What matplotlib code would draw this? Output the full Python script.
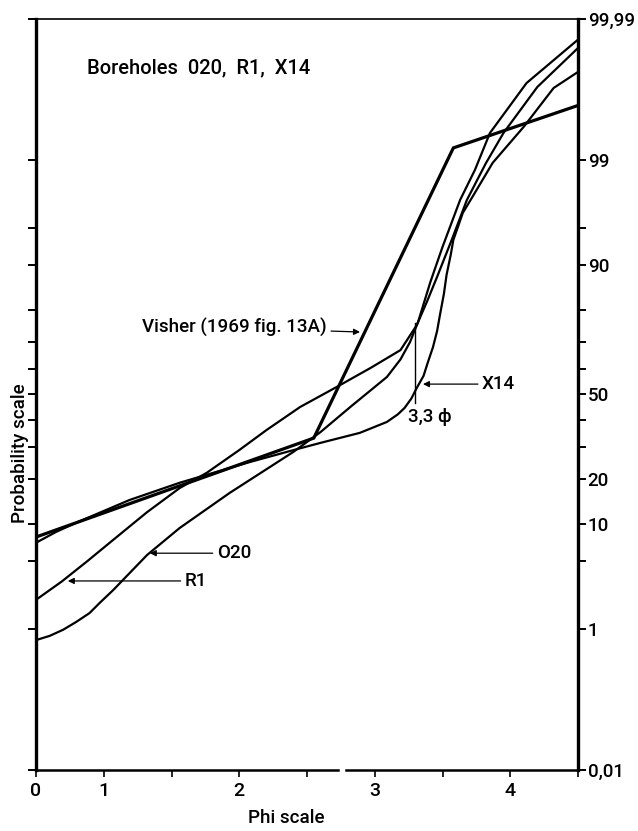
import numpy as np
import matplotlib
matplotlib.use("Agg")
import matplotlib.pyplot as plt
from statistics import NormalDist

plt.rcParams['font.family'] = ['Roboto', 'DejaVu Sans']
plt.rcParams['font.weight'] = 'medium'

# curves (phi, cumulative percent)
visher_phi = [0.0, 2.55, 3.58, 4.5]
visher_pct = [7.9, 33.3, 99.27, 99.79]

r1_phi = [0.0, 0.38, 0.75, 1.07, 1.32, 1.56, 1.76, 2.0, 2.2, 2.45, 2.72,
          2.97, 3.19, 3.31, 3.39, 3.46, 3.57, 3.68, 3.82, 3.95, 4.2, 4.5]
r1_pct = [2.1, 3.2, 4.9, 7.5, 12.2, 17.7, 21.9, 29.1, 36.2, 45.1, 53.0,
          60.4, 67.0, 75.4, 82.5, 87.8, 93.8, 97.3, 98.9, 99.52, 99.884, 99.97]

o20_phi = [0.0, 0.2, 0.4, 0.59, 0.79, 0.94, 1.07, 1.32, 1.56, 1.93, 2.4,
           2.6, 2.82, 3.09, 3.19, 3.26, 3.32, 3.41, 3.5, 3.63, 3.74, 3.85,
           4.12, 4.5]
o20_pct = [0.75, 0.84, 0.99, 1.21, 1.52, 1.95, 2.64, 5.6, 9.3, 16.5, 28.5,
           35.5, 45.1, 56.9, 63.6, 69.8, 76.4, 86.7, 92.8, 97.3, 98.7, 99.52,
           99.898, 99.978]

x14_phi = [0.0, 0.3, 0.65, 1.19, 1.56, 2.08, 2.4, 2.6, 2.89, 3.09, 3.17,
           3.22, 3.27, 3.31, 3.36, 3.39, 3.43, 3.46, 3.48, 3.51, 3.53, 3.56,
           3.58, 3.65, 3.73, 3.87, 4.1, 4.32, 4.5]
x14_pct = [7.1, 8.7, 10.5, 14.8, 19.1, 25.2, 29.1, 31.6, 35.2, 39.3, 42.2,
           44.7, 48.4, 52.6, 57.3, 62.2, 68.1, 73.5, 78.2, 84.0, 88.2, 91.6,
           93.7, 96.4, 97.6, 98.91, 99.6, 99.88, 99.93]

marker_phi = 3.3
marker_pct = [46.6, 76.1]

x_ticks = [0, 1, 1.5, 2, 2.5, 3, 3.5, 4, 4.5]
x_labels = ['0', '1', '', '2', '', '3', '', '4', '']
y_ticks = [0.01, 1, 5, 10, 20, 30, 40, 50, 60, 70, 80, 90, 95, 99, 99.99]
y_labels = ['0,01', '1', '', '10', '20', '', '', '50', '', '', '', '90', '', '99', '99,99']

_nd = NormalDist()
_ppf = np.vectorize(_nd.inv_cdf, otypes=[float])
_cdf = np.vectorize(_nd.cdf, otypes=[float])


def prob_fwd(p):
    p = np.clip(np.asarray(p, dtype=float) / 100.0, 1e-9, 1 - 1e-9)
    return _ppf(p)


def prob_inv(z):
    return _cdf(np.asarray(z, dtype=float)) * 100.0


def phi_fwd(x):  # first unit of the phi axis is drawn at half width
    x = np.asarray(x, dtype=float)
    return np.where(x < 1, 0.5 + 0.5 * x, x)


def phi_inv(u):
    u = np.asarray(u, dtype=float)
    return np.where(u < 1, 2 * (u - 0.5), u)


fig = plt.figure(figsize=(6.38, 8.31), dpi=100)
ax = fig.add_axes([36 / 638, 1 - 770 / 831, 542 / 638, 751 / 831])
ax.set_xscale('function', functions=(phi_fwd, phi_inv))
ax.set_yscale('function', functions=(prob_fwd, prob_inv))
ax.set_xlim(0, 4.5)
ax.set_ylim(0.01, 99.99)

ax.plot(visher_phi, visher_pct, color='k', lw=2.3, solid_joinstyle='miter')
for px, py in [(r1_phi, r1_pct), (o20_phi, o20_pct), (x14_phi, x14_pct)]:
    ax.plot(px, py, color='k', lw=1.6, solid_joinstyle='round')
ax.plot([marker_phi, marker_phi], marker_pct, color='k', lw=1.0)

ax.set_xticks(x_ticks)
ax.set_xticklabels(x_labels, fontsize=14)
ax.set_yticks(y_ticks)
ax.set_yticklabels(y_labels, fontsize=13.5)
ax.minorticks_off()
ax.tick_params(axis='y', left=True, right=True, labelleft=False, labelright=True,
               direction='out', length=6, width=1.4, pad=1)
ax.tick_params(axis='x', direction='out', length=5, width=1.2, pad=4)

for side, w in [('left', 2.4), ('right', 2.4), ('top', 1.2)]:
    ax.spines[side].set_linewidth(w)
ax.spines['bottom'].set_visible(False)
bt = ax.get_xaxis_transform()
ax.plot([0, 2.73], [0, 0], transform=bt, color='k', lw=1.8, clip_on=False)
ax.plot([2.79, 4.5], [0, 0], transform=bt, color='k', lw=1.8, clip_on=False)

arrow = dict(arrowstyle='-|>', color='k', lw=0.9, mutation_scale=9, shrinkA=1, shrinkB=0)
ax.annotate('O20', xy=(1.34, 5.8), xytext=(1.835, 5.8), fontsize=13.5,
            ha='left', va='center', arrowprops=arrow)
ax.annotate('R1', xy=(0.47, 3.24), xytext=(1.598, 3.24), fontsize=13.5,
            ha='left', va='center', arrowprops=arrow)
ax.annotate('X14', xy=(3.356, 54.1), xytext=(3.792, 54.1), fontsize=13.5,
            ha='left', va='center', arrowprops=arrow)
ax.annotate('Visher (1969 fig. 13A)', xy=(2.891, 73.2), xytext=(2.647, 74.5),
            fontsize=13.5, ha='right', va='center', arrowprops=arrow)
ax.text(3.245, 41.2, '3,3 \u03d5', fontsize=13.5, ha='left', va='center')

ax.text(0.094, 0.935, 'Boreholes  020,  R1,  X14', transform=ax.transAxes,
        fontsize=14.5, ha='left', va='center')
fig.text(20 / 638, 1 - 453 / 831, 'Probability scale', rotation=90,
         fontsize=13.5, ha='center', va='center')
fig.text(286 / 638, 1 - 818 / 831, 'Phi scale', fontsize=13.5, ha='center', va='center')

fig.savefig('out.png', dpi=100)
